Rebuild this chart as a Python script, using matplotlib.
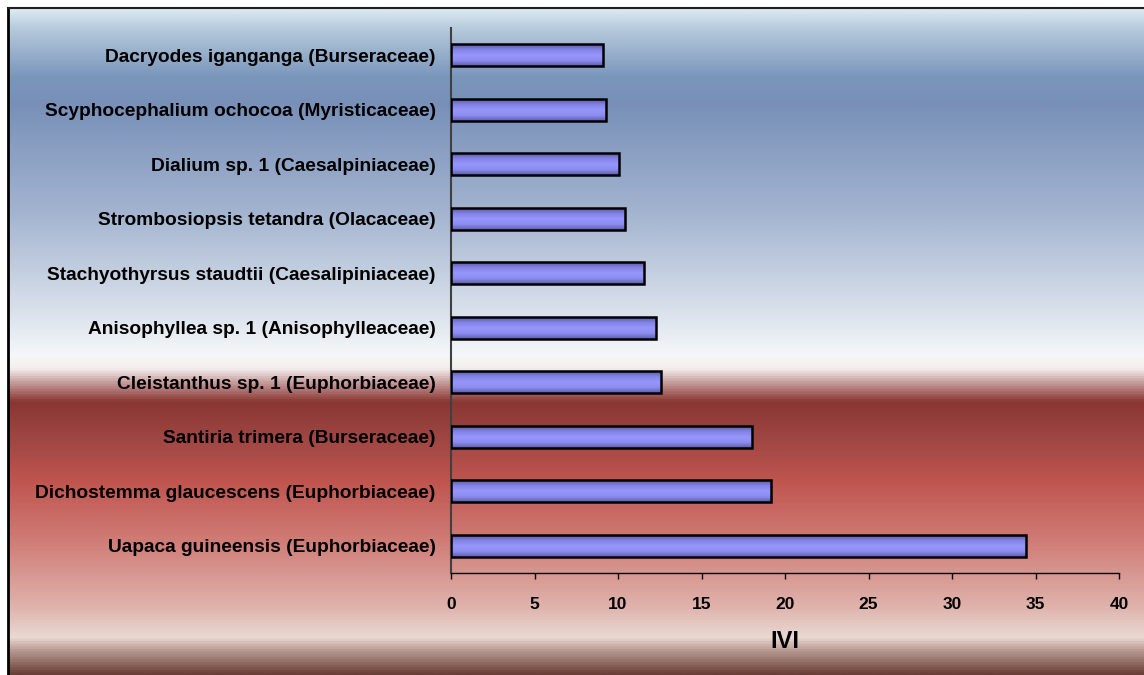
import matplotlib
matplotlib.use('Agg')

import numpy as np
import matplotlib.pyplot as plt
from matplotlib.colors import LinearSegmentedColormap
from matplotlib.lines import Line2D

# species, bottom to top
species = [
    "Uapaca guineensis (Euphorbiaceae)",
    "Dichostemma glaucescens (Euphorbiaceae)",
    "Santiria trimera (Burseraceae)",
    "Cleistanthus sp. 1 (Euphorbiaceae)",
    "Anisophyllea sp. 1 (Anisophylleaceae)",
    "Stachyothyrsus staudtii (Caesalipiniaceae)",
    "Strombosiopsis tetandra (Olacaceae)",
    "Dialium sp. 1 (Caesalpiniaceae)",
    "Scyphocephalium ochocoa (Myristicaceae)",
    "Dacryodes iganganga (Burseraceae)",
]
ivi = [34.45, 19.15, 18.0, 12.55, 12.3, 11.55, 10.4, 10.05, 9.3, 9.1]
x_ticks = [0, 5, 10, 15, 20, 25, 30, 35, 40]

plt.rcParams['font.family'] = ['Liberation Sans', 'DejaVu Sans']
plt.rcParams['font.weight'] = 'bold'

W, H = 1144, 675
fig = plt.figure(figsize=(W / 100, H / 100), dpi=100)

# ---- figure background gradient (top -> bottom) ----
bg_stops = [
    (0.000, "#dae8f1"),
    (0.030, "#b4c8da"),
    (0.100, "#7a96bb"),
    (0.140, "#7890b8"),
    (0.300, "#a2b3cf"),
    (0.450, "#d8e0ea"),
    (0.520, "#f6f7f9"),
    (0.540, "#f4eeee"),
    (0.560, "#c8a0a0"),
    (0.590, "#8a3632"),
    (0.640, "#9c4542"),
    (0.710, "#c0554f"),
    (0.800, "#d07c76"),
    (0.900, "#e0b3ad"),
    (0.945, "#e9d9d2"),
    (0.965, "#b89a93"),
    (1.000, "#6a4038"),
]
bg_cmap = LinearSegmentedColormap.from_list("bg", bg_stops)
bg_ax = fig.add_axes([9 / W, 0, 1 - 9 / W, 1 - 9 / H])
bg_ax.imshow(np.linspace(0, 1, 512).reshape(-1, 1), cmap=bg_cmap,
             aspect='auto', extent=[0, 1, 0, 1])
bg_ax.set_axis_off()

# border on top / left
fig.add_artist(Line2D([8 / W, 8 / W], [0, 1 - 8 / H], color="black",
                      lw=2, transform=fig.transFigure))
fig.add_artist(Line2D([8 / W, 1], [1 - 8 / H, 1 - 8 / H], color="#202020",
                      lw=1.5, transform=fig.transFigure))

# ---- main chart ----
ax = fig.add_axes([451 / W, 1 - 573 / H, (1119 - 451) / W, (573 - 28) / H])
ax.patch.set_alpha(0)

ypos = np.arange(len(species))
bar_h = 0.4
bars = ax.barh(ypos, ivi, height=bar_h, color="#8f8ff5",
               edgecolor="black", linewidth=1.8, zorder=3)

# shaded look inside bars
shade = LinearSegmentedColormap.from_list(
    "shade", ["#5a5aa8", "#8484e6", "#9696fc", "#8c8cf0", "#5e5eaa"])
grad = np.linspace(0, 1, 64).reshape(-1, 1)
for bar, y, v in zip(bars, ypos, ivi):
    im = ax.imshow(grad, cmap=shade, aspect='auto',
                   extent=[0, v, y - bar_h / 2, y + bar_h / 2], zorder=2)
    im.set_clip_path(bar)
    bar.set_facecolor("none")

ax.set_xlim(0, 40)
ax.set_ylim(-0.5, len(species) - 0.5)
ax.set_xticks(x_ticks)
ax.set_xticklabels([str(t) for t in x_ticks], fontsize=12.5, fontweight='bold')
ax.set_yticks(ypos)
ax.set_yticklabels(species, fontsize=13.8, fontweight='bold')
ax.tick_params(axis='y', length=0, pad=11)
ax.tick_params(axis='x', length=4, width=1, pad=13, direction='out')

ax.spines['top'].set_visible(False)
ax.spines['right'].set_visible(False)
ax.spines['left'].set_color("#404040")
ax.spines['left'].set_linewidth(1.5)
ax.spines['bottom'].set_color("black")
ax.spines['bottom'].set_linewidth(1)

ax.set_xlabel("IVI", fontsize=17, fontweight='bold', labelpad=13)

fig.savefig("out.png", dpi=100)
plt.close(fig)
